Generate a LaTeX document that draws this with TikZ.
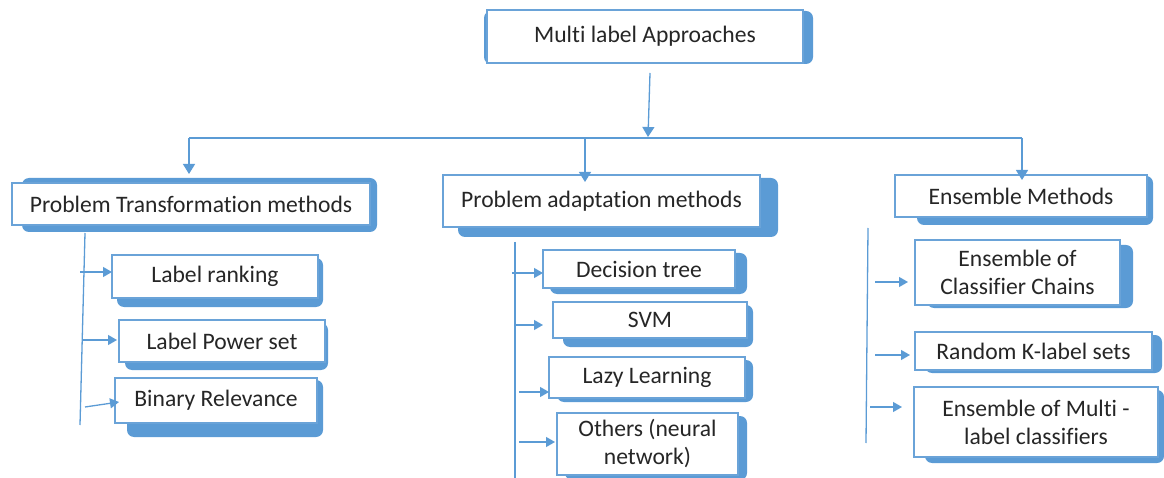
\documentclass[tikz,border=0pt]{standalone}
\usepackage{fontspec}
\setmainfont[Ligatures={NoCommon,NoContextual}]{Carlito}
\usetikzlibrary{arrows.meta,calc}
\pgfdeclarelayer{background}
\pgfsetlayers{background,main}
\definecolor{officeblue}{HTML}{5B9BD5}
\definecolor{edgeblue}{HTML}{6AA3D8}
\tikzset{
  box/.style={draw=edgeblue, line width=1.6pt, fill=white, inner sep=0pt, outer sep=0pt,
    align=center, text=black!85, font=\fontsize{23.6}{28}\selectfont},
  shade3d/.style={fill=officeblue, rounded corners=7pt},
  conn/.style={draw=officeblue, line width=1.3pt},
  bigtip/.style={conn, -{Triangle[width=12pt,length=10pt]}},
  leaftip/.style={conn, -{Triangle[width=10pt,length=9pt]}}
}
% front box from (x1,y1) to (x2,y2), pixel-like coordinates, y downwards
\newcommand\mkbox[6]{%
  \node[box, minimum width={(#4-#2)*1pt}, minimum height={(#5-#3)*1pt}]
    (#1) at ({(#2+#4)/2},{(#3+#5)/2}) {#6};}
% raised blue backing of a box: offsets of its corners from the front box
\newcommand\backing[5]{%
  \fill[shade3d] ([shift={(#2,#3)}]#1.north west) rectangle ([shift={(#4,#5)}]#1.south east);}
\begin{document}
\begin{tikzpicture}[x=1pt,y=-1pt]
\useasboundingbox (0,0) rectangle (1164,478);

% boxes
\mkbox{root}{487}{10}{803}{63}{Multi label Approaches}
\mkbox{pt}{12}{183}{370}{225}{Problem Transformation methods}
\mkbox{pa}{443}{175}{760}{227}{Problem adaptation methods}
\mkbox{em}{895}{175}{1147}{217}{Ensemble Methods}
\mkbox{lr}{112}{255}{318}{298}{Label ranking}
\mkbox{lps}{119}{320}{325}{362}{Label Power set}
\mkbox{br}{115}{378}{317}{423}{Binary Relevance}
\mkbox{dt}{543}{250}{735}{288}{Decision tree}
\mkbox{svm}{553}{302}{747}{338}{SVM}
\mkbox{ll}{549}{357}{745}{398}{Lazy Learning}
\mkbox{oth}{557}{413}{738}{475}{Others (neural\\network)}
\mkbox{ecc}{915}{240}{1120}{305}{Ensemble of\\Classifier Chains}
\mkbox{rk}{915}{332}{1152}{370}{Random K-label sets}
\mkbox{emc}{914}{387}{1158}{457}{Ensemble of Multi -\\label classifiers}

\begin{pgfonlayer}{background}
  \backing{root}{-3}{1}{10}{1}
  \backing{pt}{10}{-5}{7}{7}
  \backing{pa}{15}{3}{18}{10}
  \backing{em}{22}{1}{6}{8}
  \backing{lr}{5}{3}{5}{9}
  \backing{lps}{6}{3}{3}{8}
  \backing{br}{12}{2}{6}{14}
  \backing{dt}{7}{3}{12}{6}
  \backing{svm}{10}{3}{6}{9}
  \backing{ll}{8}{3}{8}{4}
  \backing{oth}{8}{3}{9}{5}
  \backing{ecc}{12}{5}{13}{3}
  \backing{rk}{10}{3}{10}{3}
  \backing{emc}{11}{3}{6}{6}
\end{pgfonlayer}

% bus from the root to the three families
\coordinate (rootout) at (650,73);
\coordinate (hub) at (648,137);
\coordinate (busL) at (189,138);
\coordinate (busM) at (585,138);
\coordinate (busR) at (1022,138);
\draw[bigtip] (rootout) -- (hub);
\draw[conn] (busL) -- (busR);
\draw[bigtip] (busL) -- (busL |- 0,174);
\draw[bigtip] (busM) -- (busM |- 0,182);
\draw[bigtip] (busR) -- (busR |- 0,180);

% Problem Transformation methods
\coordinate (ptT) at (85,233);
\coordinate (ptB) at (80,425);
\draw[conn] (ptT) -- (ptB);
\draw[leaftip] (80,272) -- (lr.west |- 0,272);
\draw[leaftip] (83,340) -- ([xshift=-2pt]lps.west |- 0,340);
\draw[leaftip] (85,407) -- ([xshift=4pt]br.west |- 0,402);

% Problem adaptation methods
\coordinate (paT) at (515,242);
\coordinate (paB) at (515,478);
\draw[conn] (paT) -- (paB);
\draw[leaftip] (512,273) -- (dt.west |- 0,273);
\draw[leaftip] (515,325) -- ([xshift=-10pt]svm.west |- 0,325);
\draw[leaftip] (519,392) -- (ll.west |- 0,392);
\draw[leaftip] (519,442) -- ([xshift=-2pt]oth.west |- 0,442);

% Ensemble Methods
\coordinate (emT) at (868,228);
\coordinate (emB) at (866,443);
\draw[conn] (emT) -- (emB);
\draw[leaftip] (875,282) -- ([xshift=-7pt]ecc.west |- 0,282);
\draw[leaftip] (875,355) -- ([xshift=-5pt]rk.west |- 0,355);
\draw[leaftip] (870,407) -- ([xshift=-12pt]emc.west |- 0,407);
\end{tikzpicture}
\end{document}
